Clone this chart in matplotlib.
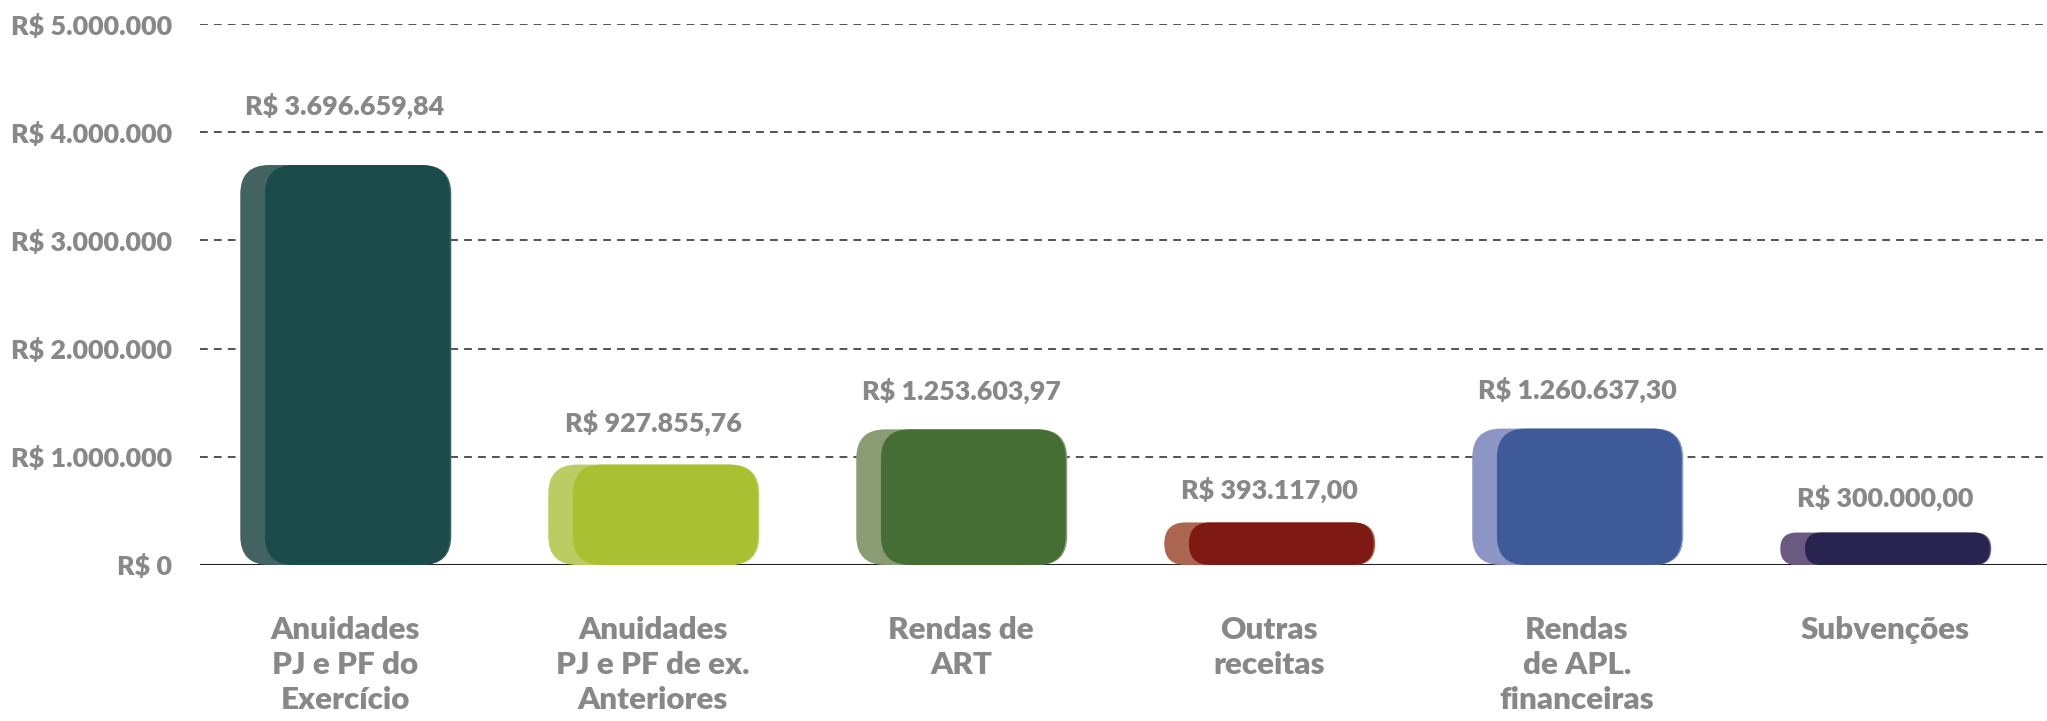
import matplotlib
matplotlib.use("Agg")
import matplotlib.pyplot as plt
from matplotlib.patches import FancyBboxPatch

categories = ["Anuidades\nPJ e PF do\nExercício",
              "Anuidades\nPJ e PF de ex.\nAnteriores",
              "Rendas de\nART",
              "Outras\nreceitas",
              "Rendas\nde APL.\nfinanceiras",
              "Subvenções"]
values = [3696659.84, 927855.76, 1253603.97, 393117.00, 1260637.30, 300000.00]
value_labels = ["R$ 3.696.659,84", "R$ 927.855,76", "R$ 1.253.603,97",
                "R$ 393.117,00", "R$ 1.260.637,30", "R$ 300.000,00"]
yticks = [0, 1000000, 2000000, 3000000, 4000000, 5000000]
ytick_labels = ["R$ 0", "R$ 1.000.000", "R$ 2.000.000", "R$ 3.000.000",
                "R$ 4.000.000", "R$ 5.000.000"]
colors = ["#1b4a4a", "#a8c032", "#456e35", "#7e1812", "#3e5a99", "#29234f"]
shadow_colors = ["#436362", "#bbcc62", "#8a9c74", "#ac6550", "#8c95c3", "#6a5a82"]

GREY = "#888888"
FONT = "Lato"
WEIGHT = "heavy"

fig = plt.figure(figsize=(20.47, 7.21), dpi=100)
W, H = 2047, 721
ax = fig.add_axes([200 / W, 1 - 565 / H, 1847 / W, 541 / H])
ax.set_xlim(-0.4708, 5.526)
ax.set_ylim(0, 5000000)
for s in ax.spines.values():
    s.set_visible(False)

# pixel -> data scale factors
xu_per_px = (ax.get_xlim()[1] - ax.get_xlim()[0]) / 1847
yu_per_px = 5000000 / 541
aspect = yu_per_px / xu_per_px

# grid + baseline
for t in yticks[1:]:
    ax.axhline(t, color="#444444", lw=1.3, dashes=(4.3, 3.4), zorder=0)
ax.axhline(0, color="#222222", lw=1.5, zorder=1)


def rounded_bar(ax, left, width, height, color, z):
    h_px = height / yu_per_px
    r_px = min(29, h_px / 2)
    p = FancyBboxPatch((left, 0), width, height,
                       boxstyle=f"round,pad=0,rounding_size={r_px * xu_per_px}",
                       mutation_aspect=aspect, facecolor=color,
                       edgecolor="none", zorder=z)
    ax.add_patch(p)


label_gap_px = [59, 42, 39, 33, 39, 35]
for i, v in enumerate(values):
    rounded_bar(ax, i - 0.34, 0.685, v, shadow_colors[i], 2)
    rounded_bar(ax, i - 0.26, 0.60, v, colors[i], 3)
    ax.text(i, v + label_gap_px[i] * yu_per_px, value_labels[i],
            ha="center", va="center", fontsize=19.4, fontweight=WEIGHT,
            color=GREY, family=FONT)

ax.set_yticks(yticks, ytick_labels)
ax.set_xticks(range(len(categories)), categories)
ax.tick_params(axis="y", length=0, pad=20, labelsize=19.4, labelcolor=GREY)
ax.tick_params(axis="x", length=0, pad=37, labelsize=22.6, labelcolor=GREY)
for lab in ax.get_yticklabels() + ax.get_xticklabels():
    lab.set_fontweight(WEIGHT)
    lab.set_family(FONT)
for lab in ax.get_xticklabels():
    lab.set_linespacing(1.3)

fig.savefig("out.png", dpi=100)
